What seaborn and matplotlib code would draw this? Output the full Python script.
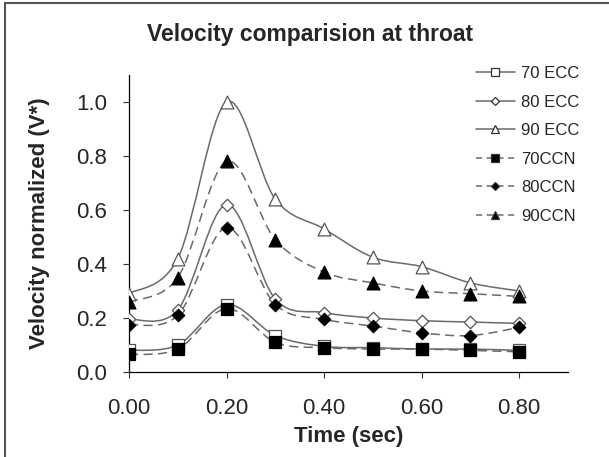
import numpy as np
import pandas as pd
import matplotlib
matplotlib.use("Agg")
import matplotlib.pyplot as plt
import seaborn as sns
from matplotlib.path import Path
from matplotlib.patches import PathPatch
from matplotlib.lines import Line2D

# values
time = [0.0, 0.1, 0.2, 0.3, 0.4, 0.5, 0.6, 0.7, 0.8]
ecc70 = [0.08, 0.10, 0.25, 0.135, 0.095, 0.09, 0.085, 0.085, 0.08]
ecc80 = [0.195, 0.23, 0.62, 0.27, 0.22, 0.20, 0.19, 0.185, 0.18]
ecc90 = [0.29, 0.42, 1.00, 0.64, 0.53, 0.425, 0.39, 0.33, 0.30]
ccn70 = [0.065, 0.085, 0.235, 0.11, 0.09, 0.085, 0.085, 0.08, 0.075]
ccn80 = [0.175, 0.21, 0.535, 0.25, 0.195, 0.17, 0.145, 0.135, 0.165]
ccn90 = [0.26, 0.35, 0.78, 0.49, 0.37, 0.33, 0.30, 0.29, 0.28]

series = [
    ("70 ECC", ecc70, "s", "white", "-"),
    ("80 ECC", ecc80, "D", "white", "-"),
    ("90 ECC", ecc90, "^", "white", "-"),
    ("70CCN", ccn70, "s", "black", "--"),
    ("80CCN", ccn80, "D", "black", "--"),
    ("90CCN", ccn90, "^", "black", "--"),
]
msize = {"s": 70, "D": 40, "^": 85}

sns.set_style("white")
plt.rcParams['font.family'] = ['Liberation Sans', 'DejaVu Sans']

fig = plt.figure(figsize=(6.09, 4.57), dpi=100)
ax = fig.add_axes([129 / 609, 1 - 372 / 457, 439 / 609, 297 / 457])

line_col = "#6a6a6a"


def smooth_path(xs, ys):
    # Excel style smoothed line: cubic bezier with catmull-rom control points
    pts = np.column_stack([xs, ys])
    n = len(pts)
    verts = [pts[0]]
    codes = [Path.MOVETO]
    for i in range(n - 1):
        p0 = pts[max(i - 1, 0)]
        p1 = pts[i]
        p2 = pts[i + 1]
        p3 = pts[min(i + 2, n - 1)]
        verts += [p1 + (p2 - p0) / 6, p2 - (p3 - p1) / 6, p2]
        codes += [Path.CURVE4] * 3
    return Path(verts, codes)


handles = []
for name, vals, mk, fc, ls in series:
    patch = PathPatch(smooth_path(time, vals), fill=False, edgecolor=line_col,
                      lw=1.1, linestyle=(0, (6, 3.5)) if ls == "--" else "-")
    ax.add_patch(patch)
    df = pd.DataFrame({"t": time, "v": vals})
    sns.scatterplot(data=df, x="t", y="v", marker=mk, s=msize[mk], color=fc,
                    edgecolor="black" if fc == "black" else "#555555",
                    linewidth=0.9, ax=ax, zorder=3)
    handles.append(Line2D([], [], color=line_col, lw=1.1,
                          linestyle=(0, (4, 3)) if ls == "--" else "-",
                          marker=mk, markersize=6 if mk != "D" else 4.5,
                          markerfacecolor=fc, markeredgecolor="#333333",
                          markeredgewidth=0.9))

ax.set_xlim(0, 0.9)
ax.set_ylim(0, 1.1)
ax.set_xticks([0.0, 0.2, 0.4, 0.6, 0.8])
ax.set_xticklabels(["0.00", "0.20", "0.40", "0.60", "0.80"])
ax.set_yticks([0.0, 0.2, 0.4, 0.6, 0.8, 1.0])
ax.set_yticklabels(["0.0", "0.2", "0.4", "0.6", "0.8", "1.0"])
for s in ["top", "right"]:
    ax.spines[s].set_visible(False)
for s in ["left", "bottom"]:
    ax.spines[s].set_color("black")
    ax.spines[s].set_linewidth(0.9)
ax.tick_params(axis="x", direction="out", length=4.5, width=0.8, pad=14,
               labelsize=16, bottom=True, color="#333333")
ax.tick_params(axis="y", direction="out", length=4.5, width=0.8, pad=11,
               labelsize=16, left=True, color="#333333")
ax.set_xlabel("Time (sec)", fontsize=16, fontweight="bold", labelpad=5)
ax.set_ylabel("Velocity normalized (V*)", fontsize=16, fontweight="bold", labelpad=19)

fig.text(310 / 609, 1 - 34 / 457, "Velocity comparision at throat", fontsize=16.5,
         fontweight="bold", ha="center", va="center")

fig.legend(handles=handles, labels=[s[0] for s in series], loc="upper left",
           bbox_to_anchor=(468 / 609, 1 - 58 / 457), frameon=False, fontsize=12,
           handlelength=2.3, handletextpad=0.4, labelspacing=0.81, borderpad=0)

# outer chart border (left and top visible)
fig.add_artist(Line2D([5 / 609, 5 / 609], [0, 1 - 3 / 457], color="#555555", lw=1.5))
fig.add_artist(Line2D([5 / 609, 1], [1 - 3 / 457, 1 - 3 / 457], color="#555555", lw=1.5))

fig.savefig("out.png", dpi=100)
